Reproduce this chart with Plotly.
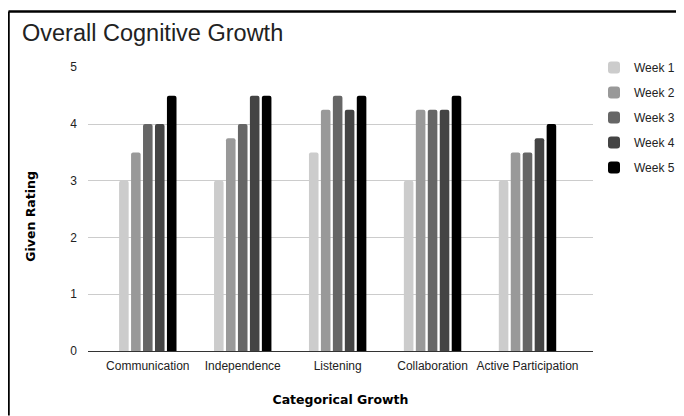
import plotly.graph_objects as go

categories = ["Communication", "Independence", "Listening", "Collaboration", "Active Participation"]
series_names = ["Week 1", "Week 2", "Week 3", "Week 4", "Week 5"]
week1 = [3.0, 3.0, 3.5, 3.0, 3.0]
week2 = [3.5, 3.75, 4.25, 4.25, 3.5]
week3 = [4.0, 4.0, 4.5, 4.25, 3.5]
week4 = [4.0, 4.5, 4.25, 4.25, 3.75]
week5 = [4.5, 4.5, 4.5, 4.5, 4.0]
colors = ["#cccccc", "#999999", "#666666", "#444444", "#000000"]
y_ticks = [0, 1, 2, 3, 4, 5]

# page body has an 8px margin; work in target-window pixels and shift
OFF = 8
W, H = 684 - OFF, 416 - OFF
plot_left, plot_right, plot_top, plot_bottom = 88, 593, 67, 351.5
L = plot_left - OFF
R = W - (plot_right - OFF)
T = plot_top - OFF
B = H - (plot_bottom - OFF)

fig = go.Figure()
for name, vals, c in zip(series_names, [week1, week2, week3, week4, week5], colors):
    fig.add_trace(go.Bar(
        x=categories, y=vals, name=name, legendgroup=name,
        marker=dict(color=c, line=dict(width=0), cornerradius=2),
    ))

pw = W - L - R
ph = H - T - B
def px_x(p):
    return (p - OFF - L) / pw
def px_y(p):
    return (H - B - (p - OFF)) / ph

bold_font = "DejaVu Sans, Verdana, sans-serif"

fig.update_layout(
    width=W, height=H,
    margin=dict(l=L, r=R, t=T, b=B, pad=0, autoexpand=False),
    paper_bgcolor="white", plot_bgcolor="white",
    barmode="group", bargap=0.37, bargroupgap=0.2,
    font=dict(family="Liberation Sans, Arial, sans-serif", size=12, color="#222222"),
    title=dict(text="Overall Cognitive Growth", x=(22 - OFF) / W, xanchor="left",
               y=1 - (33 - OFF) / H, yanchor="middle",
               font=dict(size=23.5, color="#222222")),
    xaxis=dict(
        type="category", range=[-0.63, 4.69],
        showgrid=False, showline=False, zeroline=False, ticks="",
        ticklabelstandoff=6,
        tickfont=dict(size=12, color="#222222"),
        title=dict(text="<b>Categorical Growth</b>", standoff=23,
                   font=dict(family=bold_font, size=12.5, color="#000000")),
    ),
    yaxis=dict(
        range=[0, 5.005], tickvals=y_ticks, showgrid=True, gridcolor="#cccccc", gridwidth=1,
        zeroline=True, zerolinecolor="#333333", zerolinewidth=1,
        showline=False, ticks="", ticklabelstandoff=10,
        tickfont=dict(size=12, color="#222222"),
    ),
    legend=dict(x=px_x(594), xanchor="left", y=px_y(53), yanchor="top",
                bgcolor="rgba(0,0,0,0)", tracegroupgap=6,
                font=dict(size=12, color="#222222"), traceorder="grouped"),
    annotations=[
        dict(text="<b>Given Rating</b>", xref="paper", yref="paper",
             x=px_x(31), y=px_y(217), xanchor="center", yanchor="middle",
             textangle=-90, showarrow=False,
             font=dict(family=bold_font, size=12.5, color="#000000")),
    ],
    shapes=[
        dict(type="line", xref="paper", yref="paper", x0=px_x(8.5), x1=px_x(684),
             y0=px_y(11.5), y1=px_y(11.5), line=dict(color="#000000", width=2.5)),
        dict(type="line", xref="paper", yref="paper", x0=px_x(8.5), x1=px_x(8.5),
             y0=px_y(11.5), y1=px_y(416), line=dict(color="#000000", width=2.5)),
    ],
)

fig.write_html("out.html")
